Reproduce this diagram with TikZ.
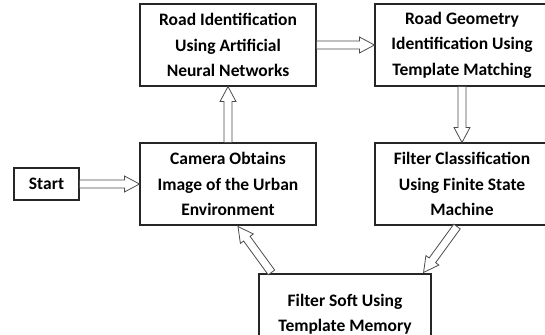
\documentclass[tikz,border=0pt]{standalone}
\usepackage{fontspec}
\setmainfont{Carlito}
\usetikzlibrary{calc}
\begin{document}
\begin{tikzpicture}[x=1pt,y=-1pt,
    stepbox/.style={draw=black!85,line width=1.1pt,minimum width=176pt,minimum height=82pt,inner sep=0pt,align=center,font=\bfseries\fontsize{17.5}{25.5}\selectfont},
    hollow/.style={draw=black!70,line width=0.8pt,fill=white}]
    \clip (0,0) rectangle (545,334);

    \node[stepbox,minimum width=65pt,minimum height=32pt] (start) at (46.5,184) {Start};
    \node[stepbox] (road) at (228,45) {Road Identification\\Using Artificial\\Neural Networks}; \node[stepbox,minimum width=174pt] (geom) at (462,45) {Road Geometry\\Identification Using\\Template Matching};
    \node[stepbox] (camera) at (228,184) {Camera Obtains\\Image of the Urban\\Environment}; \node[stepbox,minimum width=174pt] (fsm) at (462,184) {Filter Classification\\Using Finite State\\Machine};
    \node[stepbox,minimum width=172pt,minimum height=80pt] (memory) at (345,314) {Filter Soft Using\\Template Memory};

    \coordinate (fsmout) at ($(fsm.south)+(-5,1)$); \coordinate (memin) at ($(memory.north east)+(-8,-1)$);
    \coordinate (memout) at ($(memory.north west)+(13,-1)$); \coordinate (camin) at ($(camera.south)+(10,1)$);

    \foreach \a/\b in {start.east/camera.west, camera.north/road.south, road.east/geom.west, geom.south/fsm.north, fsmout/memin, memout/camin} {
        \path ($(\b)!15pt!(\a)$) coordinate (h);
        \draw[hollow] ($(\a)!4pt!90:(\b)$) -- ($(h)!4pt!-90:(\a)$) -- ($(h)!8pt!-90:(\a)$) -- (\b) -- ($(h)!8pt!90:(\a)$) -- ($(h)!4pt!90:(\a)$) -- ($(\a)!4pt!-90:(\b)$) -- cycle;
    }
\end{tikzpicture}
\end{document}
